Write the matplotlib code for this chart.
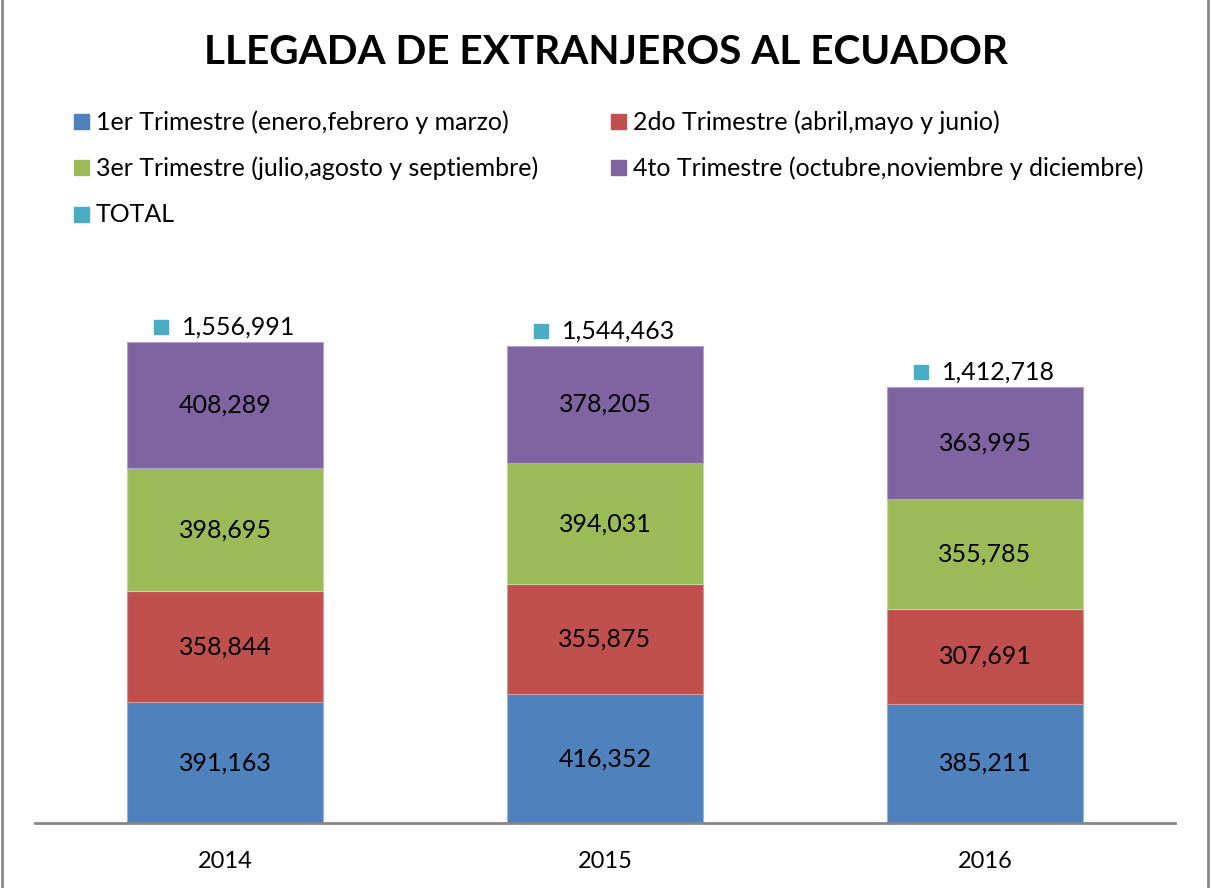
import numpy as np
import matplotlib.pyplot as plt
from matplotlib.patches import Rectangle
from matplotlib.lines import Line2D
from matplotlib.transforms import ScaledTranslation

plt.rcParams['font.family'] = ['Lato', 'DejaVu Sans']

years = ['2014', '2015', '2016']
series_names = ['1er Trimestre (enero,febrero y marzo)',
                '2do Trimestre (abril,mayo y junio)',
                '3er Trimestre (julio,agosto y septiembre)',
                '4to Trimestre (octubre,noviembre y diciembre)']
q1 = [391163, 416352, 385211]
q2 = [358844, 355875, 307691]
q3 = [398695, 394031, 355785]
q4 = [408289, 378205, 363995]
total = [1556991, 1544463, 1412718]
colors = ['#4F81BD', '#C0504D', '#9BBB59', '#8064A2']
edges = ['#95B3D7', '#D99694', '#C3D69B', '#B3A2C7']
total_color = '#4BACC6'

fig = plt.figure(figsize=(12.12, 8.88), dpi=100)
ax = fig.add_axes([35/1212, 65/888, 1140/1212, 556/888])

x = np.arange(len(years))
bottom = np.zeros(len(years))
for vals, c, ec in zip([q1, q2, q3, q4], colors, edges):
    ax.bar(x, vals, width=0.516, bottom=bottom, color=c,
           edgecolor=ec, linewidth=0.8)
    for xi, b, v in zip(x, bottom, vals):
        ax.text(xi, b + v / 2, f'{v:,}', ha='center', va='center',
                fontsize=18, color='black')
    bottom += np.array(vals)

# total labels with legend key
marker_shift = ax.transData + ScaledTranslation(-64/100, 15/100, fig.dpi_scale_trans)
for xi, t in zip(x, total):
    ax.annotate(f'{t:,}', (xi, t), xytext=(-31, 10.8), textcoords='offset points',
                ha='left', va='center', fontsize=18)
    ax.plot([xi], [t], marker='s', markersize=10.5, color=total_color,
            linestyle='none', transform=marker_shift, clip_on=False)

ax.set_xlim(-0.5, 2.5)
ax.set_ylim(0, 1.8e6)
ax.set_xticks(x)
ax.set_xticklabels(years, fontsize=17)
ax.tick_params(axis='x', length=0, pad=20)
ax.set_yticks([])
for s in ['top', 'right', 'left']:
    ax.spines[s].set_visible(False)
ax.spines['bottom'].set_color('#868686')
ax.spines['bottom'].set_linewidth(2)

fig.text(606/1212, 1 - 52/888, 'LLEGADA DE EXTRANJEROS AL ECUADOR',
         ha='center', va='center', fontsize=29.2, fontweight='bold')

# legend
legend_items = [(series_names[0], colors[0], 74, 122),
                (series_names[1], colors[1], 611, 122),
                (series_names[2], colors[2], 74, 168),
                (series_names[3], colors[3], 611, 168),
                ('TOTAL', total_color, 74, 215)]
for label, c, px, py in legend_items:
    fig.add_artist(Rectangle((px/1212, 1 - (py + 7)/888), 15/1212, 15/888,
                             color=c, transform=fig.transFigure))
    fig.text((px + 22)/1212, 1 - py/888, label, ha='left', va='center',
             fontsize=18)

# outer frame (left / right)
fig.add_artist(Line2D([2.5/1212, 2.5/1212], [0, 1], color='#898989', lw=2,
                      transform=fig.transFigure))
fig.add_artist(Line2D([1207.5/1212, 1207.5/1212], [0, 1], color='#898989', lw=2,
                      transform=fig.transFigure))

fig.savefig('out.png', dpi=100)
